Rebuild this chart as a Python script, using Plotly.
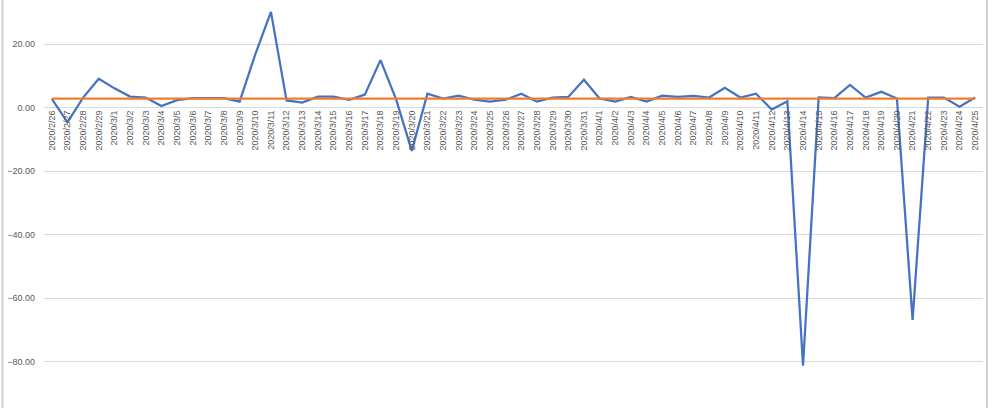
import plotly.graph_objects as go

dates = (
    [f"2020/2/{d}" for d in range(26, 30)]
    + [f"2020/3/{d}" for d in range(1, 32)]
    + [f"2020/4/{d}" for d in range(1, 26)]
)

values = [
    2.8, -4.6, 3.2, 9.1,
    6.1, 3.5, 3.2, 0.5, 2.4, 3.0, 3.0, 3.0, 1.9, 16.8,
    30.2, 2.3, 1.6, 3.5, 3.5, 2.5, 4.1, 15.0, 2.6, -13.6,
    4.4, 2.9, 3.8, 2.5, 1.9, 2.5, 4.4, 1.9, 3.2, 3.4, 8.8,
    2.9, 1.9, 3.4, 1.9, 3.8, 3.4, 3.7, 3.2, 6.3, 3.2,
    4.4, -0.6, 2.0, -81.3, 3.2, 3.0, 7.2, 3.2, 5.0, 2.9,
    -66.9, 3.2, 3.2, 0.3, 3.2,
]

average = [2.85] * len(dates)

y_min, y_max = -94.67, 33.95
y_ticks = [-80, -60, -40, -20, 0, 20]

fig = go.Figure()
fig.add_trace(go.Scatter(x=dates, y=values, mode="lines",
                         line=dict(color="#4472C4", width=2.25), showlegend=False))
fig.add_trace(go.Scatter(x=dates, y=average, mode="lines",
                         line=dict(color="#ED7D31", width=2.25), showlegend=False))

fig.update_layout(
    width=992, height=408,
    margin=dict(l=44, r=9, t=0, b=0, pad=0),
    paper_bgcolor="white", plot_bgcolor="white",
    font=dict(family="Liberation Sans", color="#595959"),
    xaxis=dict(
        type="category", range=[-0.5, len(dates) - 0.5],
        anchor="free", position=(0 - y_min) / (y_max - y_min),
        tickangle=-90, tickfont=dict(size=9, color="#595959"),
        showgrid=False, showline=False, zeroline=False, ticks="",
        automargin=False,
    ),
    yaxis=dict(
        range=[y_min, y_max], tickvals=y_ticks, tickformat=".2f",
        tickfont=dict(size=9, color="#595959"),
        showgrid=True, gridcolor="#d9d9d9", gridwidth=1,
        zeroline=True, zerolinecolor="#d9d9d9", zerolinewidth=1,
        showline=False, ticks="", automargin=False, ticklabelstandoff=8,
    ),
    shapes=[
        dict(type="line", xref="paper", yref="paper", x0=-0.0442, x1=-0.0442, y0=-0.01, y1=1.01,
             line=dict(color="#cfcfcf", width=2)),
        dict(type="line", xref="paper", yref="paper", x0=1.0043, x1=1.0043, y0=-0.01, y1=1.01,
             line=dict(color="#cfcfcf", width=2)),
    ],
)

fig.write_html(
    "out.html",
    config={"displayModeBar": False},
    post_script="document.body.style.margin='0';document.body.style.overflow='hidden';",
)
